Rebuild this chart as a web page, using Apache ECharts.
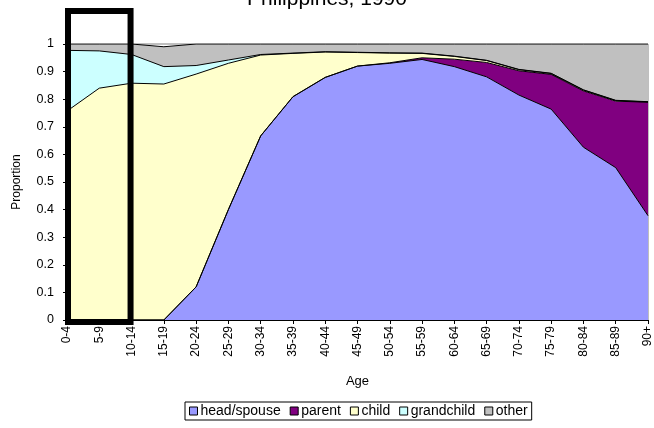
<!DOCTYPE html>
<html>
<head>
<meta charset="utf-8">
<script src="https://cdn.jsdelivr.net/npm/echarts@6/dist/echarts.min.js"></script>
<style>
  html, body { margin: 0; padding: 0; background: #fff; }
  #main { width: 654px; height: 428px; }
</style>
</head>
<body>
<div id="main"></div>
<script>
// age groups
var ages = ['0-4', '5-9', '10-14', '15-19', '20-24', '25-29', '30-34', '35-39', '40-44', '45-49',
            '50-54', '55-59', '60-64', '65-69', '70-74', '75-79', '80-84', '85-89', '90+'];
var yTicks = ['0', '0.1', '0.2', '0.3', '0.4', '0.5', '0.6', '0.7', '0.8', '0.9', '1'];

// proportions by relationship to household head
var headSpouse = [0, 0, 0, 0, 0.12, 0.40, 0.667, 0.809, 0.879, 0.92, 0.93, 0.944, 0.918, 0.881, 0.815, 0.764, 0.626, 0.552, 0.378];
var parent     = [0, 0, 0, 0, 0, 0, 0, 0, 0, 0, 0.002, 0.006, 0.027, 0.052, 0.088, 0.126, 0.204, 0.241, 0.411];
var child      = [0.757, 0.84, 0.858, 0.855, 0.771, 0.53, 0.293, 0.157, 0.092, 0.049, 0.035, 0.016, 0.01, 0.007, 0.004, 0.003, 0.003, 0.002, 0.001];
var grandchild = [0.22, 0.135, 0.104, 0.063, 0.031, 0.012, 0.002, 0.001, 0.001, 0.001, 0.001, 0.001, 0.001, 0.001, 0.001, 0.001, 0.001, 0.001, 0.001];
var other      = [0.023, 0.025, 0.038, 0.072, 0.078, 0.058, 0.038, 0.033, 0.028, 0.03, 0.032, 0.033, 0.044, 0.059, 0.092, 0.106, 0.166, 0.204, 0.209];

var names  = ['head/spouse', 'parent', 'child', 'grandchild', 'other'];
var colors = ['#9999ff', '#800080', '#ffffcc', '#ccffff', '#c0c0c0'];
var values = [headSpouse, parent, child, grandchild, other];

var font = 'Liberation Sans, Arial, sans-serif';

var myChart = echarts.init(document.getElementById('main'));

var series = names.map(function (n, i) {
    return {
        name: n,
        type: 'line',
        stack: 'total',
        data: values[i],
        symbol: 'none',
        smooth: false,
        silent: true,
        animation: false,
        lineStyle: { color: '#000', width: 1 },
        areaStyle: { color: colors[i], opacity: 1 },
        itemStyle: { color: colors[i], borderColor: '#000', borderWidth: 1 }
    };
});

var option = {
    animation: false,
    title: {
        text: 'Philippines, 1990',
        left: 'center',
        top: -16,
        textStyle: { fontFamily: font, fontSize: 21, fontWeight: 'normal', color: '#000' }
    },
    grid: { left: 67, right: 3, top: 44, bottom: 108, show: true, borderColor: '#808080', borderWidth: 1, backgroundColor: 'transparent' },
    legend: {
        bottom: 8,
        left: 185,
        data: names,
        icon: 'rect',
        itemWidth: 8,
        itemHeight: 8,
        itemGap: 9,
        padding: [2, 4, 2, 4],
        borderColor: '#000',
        borderWidth: 1,
        textStyle: { fontFamily: font, fontSize: 14, color: '#000', padding: [0, 0, 0, -2] },
        itemStyle: { borderColor: '#000', borderWidth: 1 }
    },
    xAxis: {
        type: 'category',
        data: ages,
        boundaryGap: false,
        name: 'Age',
        nameLocation: 'middle',
        nameGap: 55,
        nameTextStyle: { fontFamily: font, fontSize: 13, color: '#000' },
        axisLine: { lineStyle: { color: '#000', width: 1 } },
        axisTick: { show: true, length: 4, lineStyle: { color: '#000' } },
        axisLabel: { rotate: 90, interval: 0, fontFamily: font, fontSize: 12, color: '#000', margin: 6 },
        splitLine: { show: false }
    },
    yAxis: {
        type: 'value',
        min: 0,
        max: 1,
        interval: 0.1,
        name: 'Proportion',
        nameLocation: 'middle',
        nameGap: 44,
        nameTextStyle: { fontFamily: font, fontSize: 12, color: '#000' },
        axisLine: { show: true, lineStyle: { color: '#000', width: 1 } },
        axisTick: { show: true, length: 4, lineStyle: { color: '#000' } },
        axisLabel: {
            fontFamily: font, fontSize: 12.5, color: '#000', margin: 13,
            formatter: function (v) { return yTicks[Math.round(v * 10)]; }
        },
        splitLine: { show: false }
    },
    series: series
};

myChart.setOption(option);

// thick highlight box around the first three age groups
var x0 = myChart.convertToPixel({ xAxisIndex: 0 }, ages[0]);
var x1 = myChart.convertToPixel({ xAxisIndex: 0 }, ages[2]);
var yTop = myChart.convertToPixel({ yAxisIndex: 0 }, 1);
var yBot = myChart.convertToPixel({ yAxisIndex: 0 }, 0);
myChart.setOption({
    graphic: [{
        type: 'rect',
        z: 100,
        shape: { x: x0 + 1, y: yTop - 33, width: x1 - x0 - 2, height: yBot - yTop + 35 },
        style: { fill: 'none', stroke: '#000', lineWidth: 6 }
    }]
});
</script>
</body>
</html>
